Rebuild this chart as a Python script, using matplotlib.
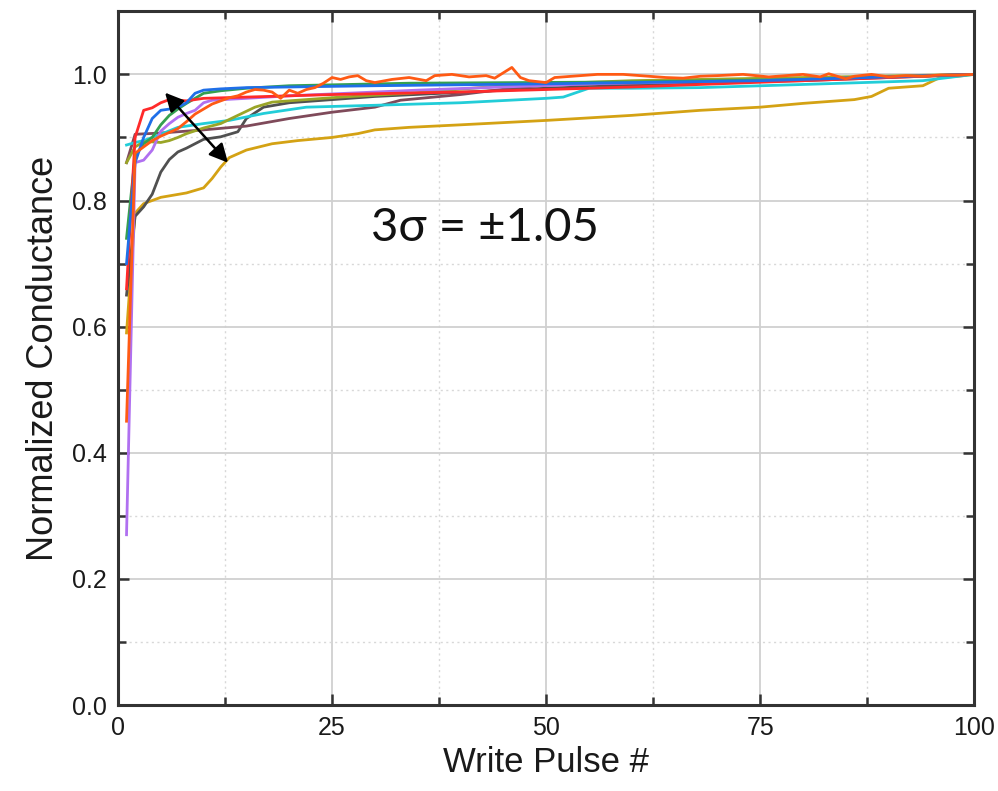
#!/usr/bin/env python3
# -*- coding: utf-8 -*-

"""Normalized conductance vs write pulse number for several devices."""

import numpy
import matplotlib
matplotlib.use('Agg')
import matplotlib.pyplot as plt
from matplotlib.ticker import MultipleLocator

# --- Data ---
blue_x = [1, 2, 3, 4, 5, 6, 7, 8, 9, 10, 12, 15, 20, 30, 50, 75, 100]
blue_y = [0.70, 0.86, 0.90, 0.93, 0.943, 0.945, 0.948, 0.955, 0.97, 0.975, 0.977, 0.979, 0.98, 0.982, 0.985, 0.99, 1.0]

red_x = [1, 2, 3, 4, 5, 6, 8, 10, 15, 25, 40, 60, 80, 100]
red_y = [0.66, 0.90, 0.943, 0.947, 0.955, 0.96, 0.958, 0.962, 0.964, 0.968, 0.972, 0.98, 0.99, 1.0]

green_x = [1, 2, 3, 4, 5, 6, 7, 8, 9, 10, 12, 15, 20, 34, 60, 80, 100]
green_y = [0.74, 0.87, 0.89, 0.90, 0.92, 0.935, 0.945, 0.954, 0.962, 0.97, 0.974, 0.978, 0.982, 0.986, 0.988, 0.992, 1.0]

purple_x = [1, 2, 3, 4, 5, 6, 7, 8, 9, 10, 11, 15, 20, 35, 55, 80, 100]
purple_y = [0.27, 0.86, 0.864, 0.88, 0.91, 0.922, 0.932, 0.938, 0.943, 0.955, 0.959, 0.962, 0.966, 0.975, 0.985, 0.992, 1.0]

orange_x = [1, 2, 3, 4, 5, 6, 7, 8, 9, 10, 11, 12, 13, 14, 15, 16, 17, 18, 19, 20,
            21, 22, 23, 24, 25, 26, 27, 28, 29, 30, 32, 34, 36, 37, 39, 41, 43, 44, 46, 47,
            48, 50, 51, 53, 56, 59, 62, 64, 66, 68, 70, 73, 76, 78, 80, 82, 83, 85, 86, 88,
            90, 92, 94, 96, 98, 100]
orange_y = [0.45, 0.875, 0.885, 0.895, 0.902, 0.908, 0.914, 0.925, 0.937, 0.945, 0.953, 0.958, 0.963, 0.966, 0.972, 0.976, 0.975, 0.972, 0.962, 0.975,
            0.97, 0.976, 0.979, 0.986, 0.995, 0.992, 0.996, 0.998, 0.99, 0.987, 0.992, 0.995, 0.99, 0.998, 1.0, 0.996, 0.998, 0.994, 1.011, 0.995,
            0.99, 0.987, 0.995, 0.997, 1.0, 1.0, 0.997, 0.995, 0.994, 0.997, 0.998, 1.0, 0.996, 0.998, 1.0, 0.996, 1.001, 0.993, 0.997, 1.0,
            0.996, 0.998, 0.997, 0.999, 0.999, 1.0]

olive_x = [1, 2, 3, 4, 5, 6, 7, 8, 10, 12, 14, 16, 18, 22, 26, 34, 46, 60, 80, 100]
olive_y = [0.86, 0.885, 0.893, 0.893, 0.892, 0.895, 0.9, 0.906, 0.915, 0.922, 0.935, 0.948, 0.956, 0.96, 0.964, 0.97, 0.983, 0.99, 0.995, 1.0]

cyan_x = [1, 2, 3, 5, 7, 10, 13, 17, 22, 30, 40, 50, 52, 55, 60, 68, 80, 94, 100]
cyan_y = [0.888, 0.892, 0.895, 0.905, 0.916, 0.922, 0.927, 0.938, 0.948, 0.951, 0.955, 0.962, 0.964, 0.978, 0.978, 0.979, 0.984, 0.99, 1.0]

brown_x = [1, 2, 5, 10, 15, 20, 25, 30, 33, 40, 46, 50, 60, 80, 100]
brown_y = [0.86, 0.905, 0.907, 0.912, 0.918, 0.93, 0.94, 0.948, 0.959, 0.968, 0.978, 0.983, 0.986, 0.99, 1.0]

gray_x = [1, 2, 3, 4, 5, 6, 7, 8, 9, 10, 12, 14, 15, 17, 20, 30, 50, 75, 100]
gray_y = [0.65, 0.775, 0.79, 0.81, 0.845, 0.865, 0.877, 0.883, 0.89, 0.897, 0.901, 0.909, 0.93, 0.948, 0.955, 0.965, 0.978, 0.99, 1.0]

gold_x = [1, 2, 3, 5, 8, 10, 11, 12, 13, 15, 18, 21, 25, 28, 30, 34, 40, 50, 60, 68,
          75, 80, 84, 86, 88, 90, 92, 94, 96, 98, 100]
gold_y = [0.59, 0.78, 0.795, 0.805, 0.812, 0.82, 0.835, 0.853, 0.868, 0.88, 0.89, 0.895, 0.9, 0.906, 0.912, 0.916, 0.92, 0.927, 0.935, 0.943,
          0.948, 0.954, 0.958, 0.96, 0.965, 0.978, 0.98, 0.982, 0.995, 0.997, 1.0]

series = [
    (gold_x, gold_y, '#d4a214'),
    (gray_x, gray_y, '#505050'),
    (brown_x, brown_y, '#7f4a5a'),
    (cyan_x, cyan_y, '#22cdd8'),
    (olive_x, olive_y, '#9aa527'),
    (purple_x, purple_y, '#b070f0'),
    (green_x, green_y, '#34a050'),
    (red_x, red_y, '#ff2a2a'),
    (blue_x, blue_y, '#1f6fe8'),
    (orange_x, orange_y, '#ff5a14'),
]

# --- Plot ---
plt.rcParams['font.family'] = ['Liberation Sans', 'DejaVu Sans']
fig = plt.figure(figsize=(9.98, 7.91), dpi=100)
ax = fig.add_axes([0.1182, 0.1087, 0.858, 0.877])

for x, y, c in series:
    ax.plot(x, y, color=c, lw=2.0)

ax.set_xlim(0, 100)
ax.set_ylim(0, 1.1)
ax.xaxis.set_major_locator(MultipleLocator(25))
ax.xaxis.set_minor_locator(MultipleLocator(12.5))
ax.yaxis.set_major_locator(MultipleLocator(0.2))
ax.yaxis.set_minor_locator(MultipleLocator(0.1))
ax.yaxis.set_major_formatter(matplotlib.ticker.FormatStrFormatter('%.1f'))

ax.grid(which='major', color='#d0d0d0', lw=1.3, ls='-')
ax.grid(which='minor', color='#d8d8d8', lw=1.0, ls=(0, (1.5, 2.5)))
ax.set_axisbelow(True)

for s in ax.spines.values():
    s.set_color('#333333')
    s.set_linewidth(2.2)
ax.tick_params(which='both', direction='in', top=True, right=True, color='#333333', width=1.8)
ax.tick_params(which='major', length=8, labelsize=18, pad=8, labelcolor='#1a1a1a')
ax.tick_params(which='minor', length=6)

ax.set_xlabel('Write Pulse #', fontsize=25, color='#1a1a1a', labelpad=4)
ax.set_ylabel('Normalized Conductance', fontsize=26, color='#1a1a1a', labelpad=8)

# spread arrow
ax.annotate('', xy=(12.85, 0.860), xytext=(5.5, 0.971),
            arrowprops=dict(arrowstyle='<|-|>', color='black', lw=1.8, mutation_scale=28,
                            shrinkA=0, shrinkB=0))

ax.text(42.8, 0.757, '3σ = ±1.05', fontsize=34, family=['Lato', 'DejaVu Sans'],
        ha='center', va='center', color='#111111')

plt.savefig('out.png', dpi=100)
